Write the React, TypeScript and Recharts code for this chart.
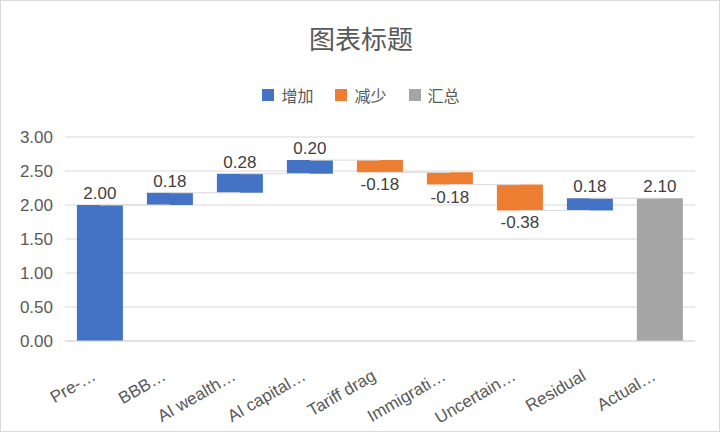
import React from "react";
import { BarChart, Bar, XAxis, YAxis, CartesianGrid, ReferenceLine, LabelList, Cell } from "recharts";

const categories = ["Pre-…", "BBB…", "AI wealth…", "AI capital…", "Tariff drag", "Immigrati…", "Uncertain…", "Residual", "Actual…"];
const deltas = [2.0, 0.18, 0.28, 0.2, -0.18, -0.18, -0.38, 0.18, 2.1];
const isTotal = [false, false, false, false, false, false, false, false, true];
const yTicks = [0, 0.5, 1, 1.5, 2, 2.5, 3];

const BLUE = "#4472C4";
const ORANGE = "#ED7D31";
const GRAY = "#A5A5A5";
const FONT = "Liberation Sans, Arial, sans-serif";

interface Row {
  name: string;
  base: number;
  size: number;
  delta: number;
  end: number;
  kind: "up" | "down" | "total";
}

const rows: Row[] = [];
let running = 0;
categories.forEach((name, i) => {
  const d = deltas[i];
  if (isTotal[i]) {
    running = d;
    rows.push({ name, base: 0, size: d, delta: d, end: d, kind: "total" });
  } else {
    const start = running;
    running = +(running + d).toFixed(4);
    rows.push({ name, base: Math.min(start, running), size: Math.abs(d), delta: d, end: running, kind: d >= 0 ? "up" : "down" });
  }
});

const colorOf = (r: Row) => (r.kind === "total" ? GRAY : r.kind === "up" ? BLUE : ORANGE);

const ValueLabel = (props: any) => {
  const { x, y, width, height, index } = props;
  const r = rows[index];
  const below = r.delta < 0;
  return (
    <text
      x={x + width / 2}
      y={below ? y + height + 18 : y - 6}
      textAnchor="middle"
      fill="#404040"
      fontSize={17}
      fontFamily={FONT}
    >
      {r.delta.toFixed(2)}
    </text>
  );
};

const CatTick = (props: any) => {
  const { x, y, payload } = props;
  return (
    <g transform={`translate(${x - 3},${y + 30})`}>
      <text textAnchor="end" transform="rotate(-30)" fill="#595959" fontSize={17} fontFamily={FONT}>
        {payload.value}
      </text>
    </g>
  );
};

const legendItems = [
  { label: "增加", color: BLUE },
  { label: "减少", color: ORANGE },
  { label: "汇总", color: GRAY },
];

export default function App() {
  return (
    <div style={{ position: "relative", width: 720, height: 432, background: "#fff", boxSizing: "border-box", border: "1px solid #d9d9d9" }}>
      <style>{`body{margin:0}`}</style>
      <div
        style={{
          position: "absolute",
          top: 18,
          left: 0,
          width: 720,
          textAlign: "center",
          fontSize: 26,
          color: "#595959",
          fontFamily: "'Noto Sans CJK SC', sans-serif",
        }}
      >
        图表标题
      </div>
      <div
        style={{
          position: "absolute",
          top: 82,
          left: 0,
          width: 720,
          display: "flex",
          justifyContent: "center",
          gap: 22,
          fontSize: 16,
          color: "#595959",
          fontFamily: "'Noto Sans CJK SC', sans-serif",
        }}
      >
        {legendItems.map((it) => (
          <div key={it.label} style={{ display: "flex", alignItems: "center", gap: 7 }}>
            <div style={{ width: 12, height: 12, background: it.color }} />
            <span>{it.label}</span>
          </div>
        ))}
      </div>
      <div style={{ position: "absolute", top: 0, left: 0 }}>
        <BarChart width={718} height={430} data={rows} margin={{ top: 136, right: 24, bottom: 10, left: 0 }} barCategoryGap="17%">
          <CartesianGrid vertical={false} stroke="#d9d9d9" />
          <XAxis dataKey="name" interval={0} tickLine={false} axisLine={{ stroke: "#d9d9d9" }} height={80} tick={<CatTick />} />
          <YAxis
            domain={[0, 3]}
            ticks={yTicks}
            width={64}
            tickLine={false}
            axisLine={false}
            tickFormatter={(v: number) => v.toFixed(2)}
            tick={{ fill: "#595959", fontSize: 17, fontFamily: FONT }}
            tickMargin={6}
          />
          {rows.slice(0, -1).map((r, i) => (
            <ReferenceLine
              key={"c" + i}
              segment={[
                { x: r.name, y: r.end },
                { x: rows[i + 1].name, y: r.end },
              ]}
              stroke="#d9d9d9"
              strokeWidth={1}
            />
          ))}
          <Bar dataKey="base" stackId="w" fill="transparent" isAnimationActive={false} />
          <Bar dataKey="size" stackId="w" isAnimationActive={false}>
            {rows.map((r, i) => (
              <Cell key={i} fill={colorOf(r)} />
            ))}
            <LabelList dataKey="size" content={<ValueLabel />} />
          </Bar>
        </BarChart>
      </div>
    </div>
  );
}
